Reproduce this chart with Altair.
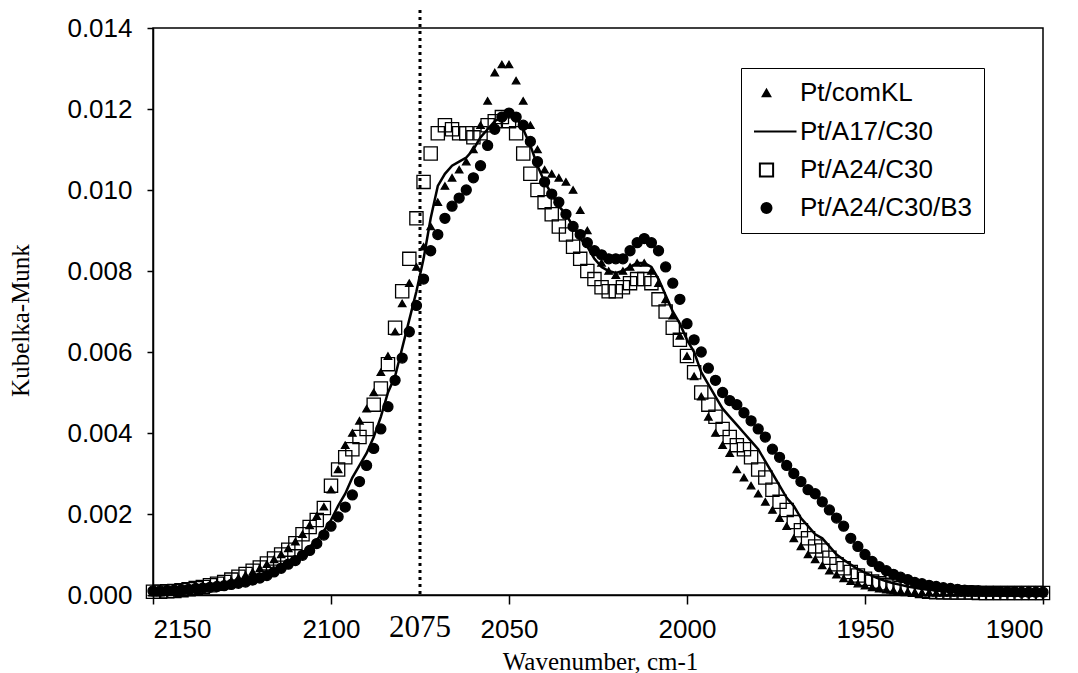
import altair as alt
import pandas as pd

# wavenumber sampling positions (cm-1), 2150 -> 1900 every 2 cm-1
wavenumber = list(range(2150, 1898, -2))

names = ["Pt/comKL", "Pt/A17/C30", "Pt/A24/C30", "Pt/A24/C30/B3"]

comkl = [
    0.00006, 0.00006, 0.00007, 0.00008, 0.00010, 0.00012, 0.00014, 0.00017, 0.00021, 0.00025,
    0.00030, 0.00035, 0.00042, 0.00049, 0.00057, 0.00066, 0.00076, 0.00088, 0.00100, 0.00115,
    0.00132, 0.00150, 0.00172, 0.00195, 0.00218, 0.0026, 0.0031, 0.0037, 0.0040, 0.0043,
    0.0046, 0.0050, 0.0055, 0.0059, 0.0065, 0.0072, 0.0077, 0.0081, 0.0086, 0.0091,
    0.0097, 0.0101, 0.0103, 0.0105, 0.0107, 0.0110, 0.0116, 0.0122, 0.0129, 0.0131,
    0.0131, 0.0127, 0.0122, 0.0116, 0.0110, 0.0105, 0.0104, 0.0103, 0.0102, 0.0100,
    0.0095, 0.0090, 0.0085, 0.0082, 0.0080, 0.0079, 0.0080, 0.0081, 0.0082, 0.0082,
    0.0080, 0.0077, 0.0073, 0.0069, 0.0064, 0.0059, 0.0054, 0.0049, 0.0044, 0.0040,
    0.0037, 0.0035, 0.0031, 0.0029, 0.0027, 0.0025, 0.0023, 0.0021, 0.0019, 0.0017,
    0.0014, 0.0012, 0.0010, 0.00088, 0.00073, 0.00060, 0.00050, 0.00041, 0.00034, 0.00028,
    0.00023, 0.00019, 0.00016, 0.00013, 0.00011, 0.00009, 0.00008, 0.00007, 0.00006, 0.00006,
    0.00005, 0.00005, 0.00005, 0.00005, 0.00005, 0.00005, 0.00005, 0.00005, 0.00005, 0.00005,
    0.00005, 0.00005, 0.00005, 0.00005, 0.00005, 0.00005,
]

a17c30 = [
    0.00007, 0.00007, 0.00008, 0.00009, 0.00010, 0.00012, 0.00014, 0.00016, 0.00019, 0.00022,
    0.00025, 0.00028, 0.00033, 0.00038, 0.00043, 0.00049, 0.00055, 0.00062, 0.00070, 0.00080,
    0.00091, 0.00104, 0.00119, 0.00136, 0.00158, 0.00185, 0.0022, 0.0025, 0.0029, 0.0032,
    0.0035, 0.0039, 0.0044, 0.0050, 0.0054, 0.0061, 0.0068, 0.0075, 0.0083, 0.0093,
    0.0101, 0.0104, 0.0106, 0.0107, 0.0108, 0.0110, 0.0113, 0.0115, 0.0117, 0.0118,
    0.0119, 0.0118, 0.0115, 0.0111, 0.0106, 0.0102, 0.0099, 0.0096, 0.0094, 0.0091,
    0.0088, 0.0086, 0.0083, 0.0081, 0.0080, 0.00795, 0.0080, 0.0081, 0.0082, 0.0082,
    0.0081, 0.0078, 0.0074, 0.0070, 0.0067, 0.0063, 0.0060, 0.0055, 0.0052, 0.0049,
    0.0046, 0.0044, 0.0042, 0.0040, 0.0038, 0.0036, 0.0033, 0.0030, 0.0027, 0.0024,
    0.0022, 0.0019, 0.0017, 0.0015, 0.0014, 0.0012, 0.0010, 0.00087, 0.00075, 0.00064,
    0.00055, 0.00047, 0.00040, 0.00034, 0.00029, 0.00025, 0.00021, 0.00018, 0.00015, 0.00013,
    0.00011, 0.00010, 0.00009, 0.00009, 0.00008, 0.00008, 0.00007, 0.00007, 0.00006, 0.00006,
    0.00006, 0.00006, 0.00005, 0.00005, 0.00005, 0.00005,
]

a24c30 = [
    0.00008, 0.00008, 0.00009, 0.00010, 0.00012, 0.00014, 0.00017, 0.00020, 0.00024, 0.00028,
    0.00032, 0.00038, 0.00045, 0.00052, 0.00060, 0.00068, 0.00078, 0.00090, 0.00100, 0.00112,
    0.00128, 0.00150, 0.00168, 0.00185, 0.00215, 0.0027, 0.0031, 0.0034, 0.0036, 0.0039,
    0.0041, 0.0047, 0.0051, 0.0057, 0.0066, 0.0075, 0.0083, 0.0093, 0.0102, 0.0109,
    0.0114, 0.0116, 0.0115, 0.0114, 0.0114, 0.0113, 0.0114, 0.0116, 0.0117, 0.0118,
    0.0117, 0.0114, 0.0109, 0.0104, 0.0100, 0.0097, 0.0094, 0.0091, 0.0089, 0.0086,
    0.0083, 0.0080, 0.0078, 0.0076, 0.0075, 0.0075, 0.0076, 0.0077, 0.0078, 0.0078,
    0.0077, 0.0073, 0.0070, 0.0066, 0.0063, 0.0059, 0.0055, 0.0050, 0.0047, 0.0044,
    0.0041, 0.0039, 0.0037, 0.0036, 0.0034, 0.0031, 0.0029, 0.0026, 0.0023, 0.0021,
    0.0018, 0.0016, 0.0014, 0.0012, 0.0011, 0.00092, 0.00076, 0.00066, 0.00057, 0.00048,
    0.00040, 0.00033, 0.00029, 0.00025, 0.00021, 0.00017, 0.00015, 0.00013, 0.00010, 0.00008,
    0.00007, 0.00007, 0.00006, 0.00006, 0.00006, 0.00006, 0.00005, 0.00005, 0.00005, 0.00005,
    0.00005, 0.00005, 0.00005, 0.00005, 0.00005, 0.00005,
]

a24c30b3 = [
    0.00010, 0.00010, 0.00011, 0.00012, 0.00013, 0.00014, 0.00016, 0.00017, 0.00019, 0.00021,
    0.00023, 0.00026, 0.00029, 0.00032, 0.00037, 0.00042, 0.00048, 0.00057, 0.00066, 0.00076,
    0.00085, 0.00098, 0.00110, 0.00127, 0.00148, 0.00170, 0.00193, 0.00217, 0.00247, 0.00280,
    0.00320, 0.00362, 0.00410, 0.00465, 0.00530, 0.00585, 0.00650, 0.00715, 0.0078, 0.0085,
    0.0089, 0.0093, 0.0096, 0.0098, 0.0100, 0.0103, 0.0106, 0.0111, 0.0115, 0.0118,
    0.0119, 0.0118, 0.0116, 0.0112, 0.0107, 0.0102, 0.0099, 0.0097, 0.0094, 0.0091,
    0.0089, 0.0087, 0.0085, 0.0084, 0.0083, 0.0083, 0.0083, 0.0085, 0.0087, 0.0088,
    0.0087, 0.0085, 0.0081, 0.0077, 0.0073, 0.0067, 0.0063, 0.0060, 0.0056, 0.0053,
    0.0050, 0.0048, 0.0047, 0.0045, 0.0043, 0.0041, 0.0039, 0.0036, 0.0034, 0.0032,
    0.0030, 0.0028, 0.0026, 0.0025, 0.0023, 0.0021, 0.0019, 0.0017, 0.0014, 0.0012,
    0.0010, 0.00083, 0.00070, 0.00060, 0.00051, 0.00044, 0.00038, 0.00031, 0.00028, 0.00024,
    0.00021, 0.00018, 0.00016, 0.00014, 0.00012, 0.00011, 0.00010, 0.00009, 0.00009, 0.00008,
    0.00008, 0.00008, 0.00007, 0.00007, 0.00007, 0.00007,
]

series_values = [comkl, a17c30, a24c30, a24c30b3]
for s in series_values:
    assert len(s) == len(wavenumber), (len(s), len(wavenumber))

x_ticks = [2150, 2100, 2050, 2000, 1950, 1900]
y_ticks = [0.0, 0.002, 0.004, 0.006, 0.008, 0.010, 0.012, 0.014]
marker_wn = 2075
marker_label = "2075"

rows = []
for name, vals in zip(names, series_values):
    for w, v in zip(wavenumber, vals):
        rows.append({"wn": w, "km": v, "series": name})
df = pd.DataFrame(rows)

W, H = 890, 567

xscale = alt.Scale(domain=[1900, 2150], reverse=True, nice=False, zero=False)
yscale = alt.Scale(domain=[0, 0.014], nice=False)

xaxis = alt.Axis(values=x_ticks, format="d", tickSize=9, labelPadding=12,
                 titleX=W / 2 + 2, titleY=66, titleBaseline="middle", titleAlign="center")
yaxis = alt.Axis(values=y_ticks, format=".3f", tickSize=6, labelPadding=15,
                 titleX=-133, titleY=292, titleBaseline="middle", titleAlign="center")

X = alt.X("wn:Q", scale=xscale, axis=xaxis, title="Wavenumber, cm-1")
Y = alt.Y("km:Q", scale=yscale, axis=yaxis, title="Kubelka-Munk")

legend = alt.Legend(
    title=None, orient="none", legendX=588, legendY=40,
    strokeColor="black", padding=12, labelFont="Liberation Sans",
    labelFontSize=26, labelColor="black", labelOffset=20, labelLimit=400,
    rowPadding=12, symbolStrokeWidth=2, symbolOpacity=1,
)

# legend line for the solid series: a horizontal path that reaches beyond its cell
line_symbol = "M-1,0L2.4,0"
shape_scale = alt.Scale(domain=names, range=["triangle-up", line_symbol, "square", "circle"])
fill_scale = alt.Scale(domain=names, range=["black", "black", "transparent", "black"])
stroke_scale = alt.Scale(domain=names, range=["black", "black", "black", "black"])
size_scale = alt.Scale(type="ordinal", domain=names, range=[55, 625, 175, 100])

points = alt.Chart(df).transform_filter(
    alt.datum.series != names[1]
).mark_point(filled=True, strokeWidth=1.3, opacity=1).encode(
    x=X, y=Y,
    shape=alt.Shape("series:N", scale=shape_scale, legend=legend),
    fill=alt.Fill("series:N", scale=fill_scale, legend=legend),
    stroke=alt.Stroke("series:N", scale=stroke_scale, legend=legend),
    size=alt.Size("series:N", scale=size_scale, legend=legend),
)

line = alt.Chart(df).transform_filter(
    alt.datum.series == names[1]
).mark_line(color="black", strokeWidth=2.5).encode(x=X, y=Y)

rule = alt.Chart(pd.DataFrame({"wn": [marker_wn]})).mark_rule(
    color="black", strokeWidth=3, strokeDash=[3, 4]
).encode(x=alt.X("wn:Q", scale=xscale), y=alt.value(-18), y2=alt.value(H))

label = alt.Chart(pd.DataFrame({"wn": [marker_wn], "txt": [marker_label]})).mark_text(
    font="Liberation Serif", fontSize=31, baseline="middle", color="black"
).encode(x=alt.X("wn:Q", scale=xscale), y=alt.value(H + 33), text="txt:N")

chart = alt.layer(line, points, rule, label).properties(
    width=W, height=H,
    background="white",
    autosize=alt.AutoSizeParams(type="none"),
    padding={"left": 153, "top": 28, "right": 35, "bottom": 78},
).configure_view(
    stroke="black", strokeWidth=1.5
).configure_axis(
    grid=False, domainColor="black", domainWidth=1.5, tickColor="black", tickWidth=1.5,
    labelFont="Liberation Sans", labelFontSize=26, labelColor="black",
    titleFont="Liberation Serif", titleFontSize=25, titleFontWeight="normal", titleColor="black",
)

chart.save("out.html", embed_options={"renderer": "svg", "actions": False})
